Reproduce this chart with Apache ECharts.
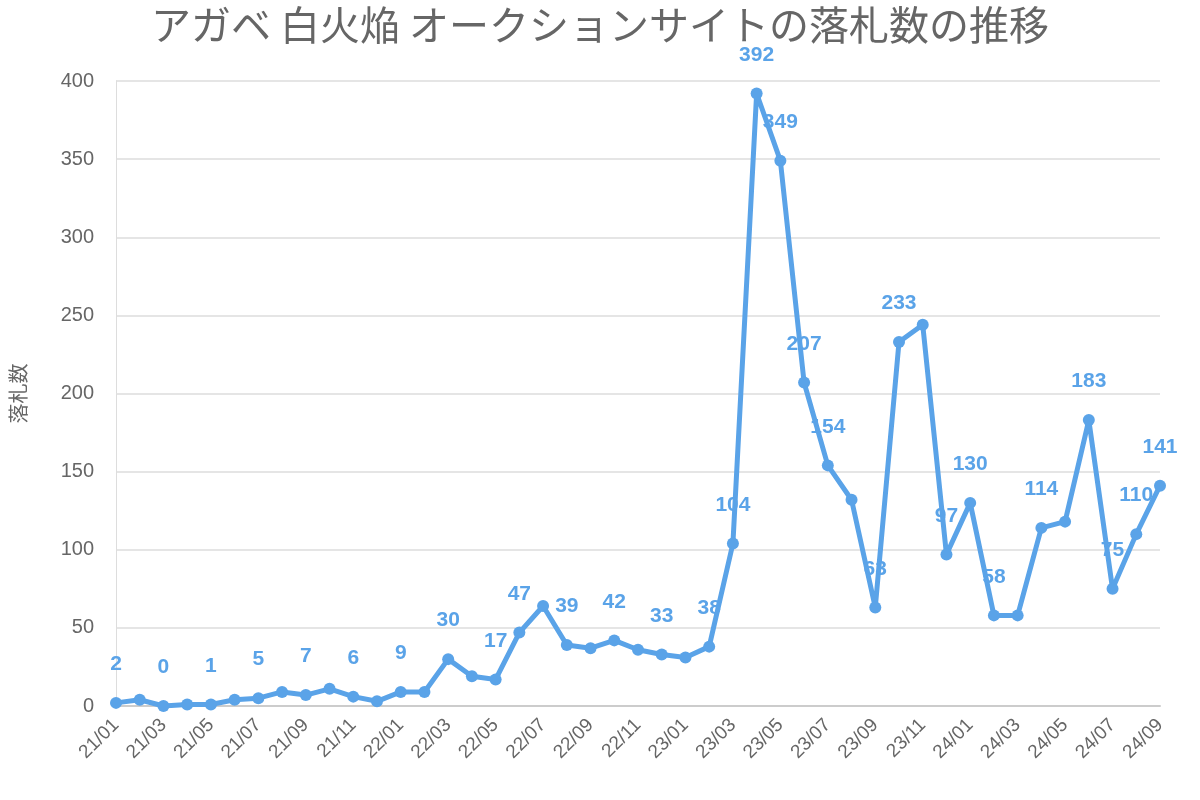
<!DOCTYPE html><html><head><meta charset="utf-8"><script src="https://cdn.jsdelivr.net/npm/echarts@6/dist/echarts.min.js"></script></head><body style="margin:0"><div id="c" style="width:1200px;height:800px"></div><script>
const categories=[];for(const y of [21,22,23,24])for(let m=1;m<=12;m++){if(y===24&&m>9)break;categories.push(y+'/'+String(m).padStart(2,'0'));}
const values=[2,4,0,1,1,4,5,9,7,11,6,3,9,9,30,19,17,47,64,39,37,42,36,33,31,38,104,392,349,207,154,132,63,233,244,97,130,58,58,114,118,183,75,110,141];
const labelIdx=[0,2,4,6,8,10,12,14,16,17,19,21,23,25,26,27,28,29,30,32,33,35,36,37,39,41,42,43,44];
const c=echarts.init(document.getElementById('c'));
c.setOption({
title:{text:'アガベ 白火焔 オークションサイトの落札数の推移',left:'center',top:0,textStyle:{fontSize:40,fontWeight:'normal',color:'#666',fontFamily:'Noto Sans CJK JP'}},
grid:{left:113,right:40,top:81,bottom:94},
xAxis:{type:'category',data:categories,boundaryGap:false,axisTick:{show:false},axisLine:{lineStyle:{color:'#ccc',width:2}},
 axisLabel:{interval:1,rotate:45,fontSize:19,color:'#666',margin:16},splitLine:{show:false}},
yAxis:{type:'value',min:0,max:400,interval:50,name:'落札数',nameLocation:'middle',nameGap:88,nameTextStyle:{fontSize:20,color:'#666',fontFamily:'Noto Sans CJK JP'},
 axisLine:{show:true,lineStyle:{color:'#ddd'}},axisLabel:{fontSize:20,color:'#666',margin:22},splitLine:{lineStyle:{color:'#ddd',width:1.5}}},
series:[{type:'line',data:values,symbol:'circle',symbolSize:12,itemStyle:{color:'#5aa3e8'},lineStyle:{width:5,color:'#5aa3e8'},
 label:{show:true,position:'top',distance:22,fontSize:21,fontWeight:'bold',color:'#5aa3e8',
 formatter:p=>labelIdx.includes(p.dataIndex)?String(p.value):''}}]
});
</script></body></html>
